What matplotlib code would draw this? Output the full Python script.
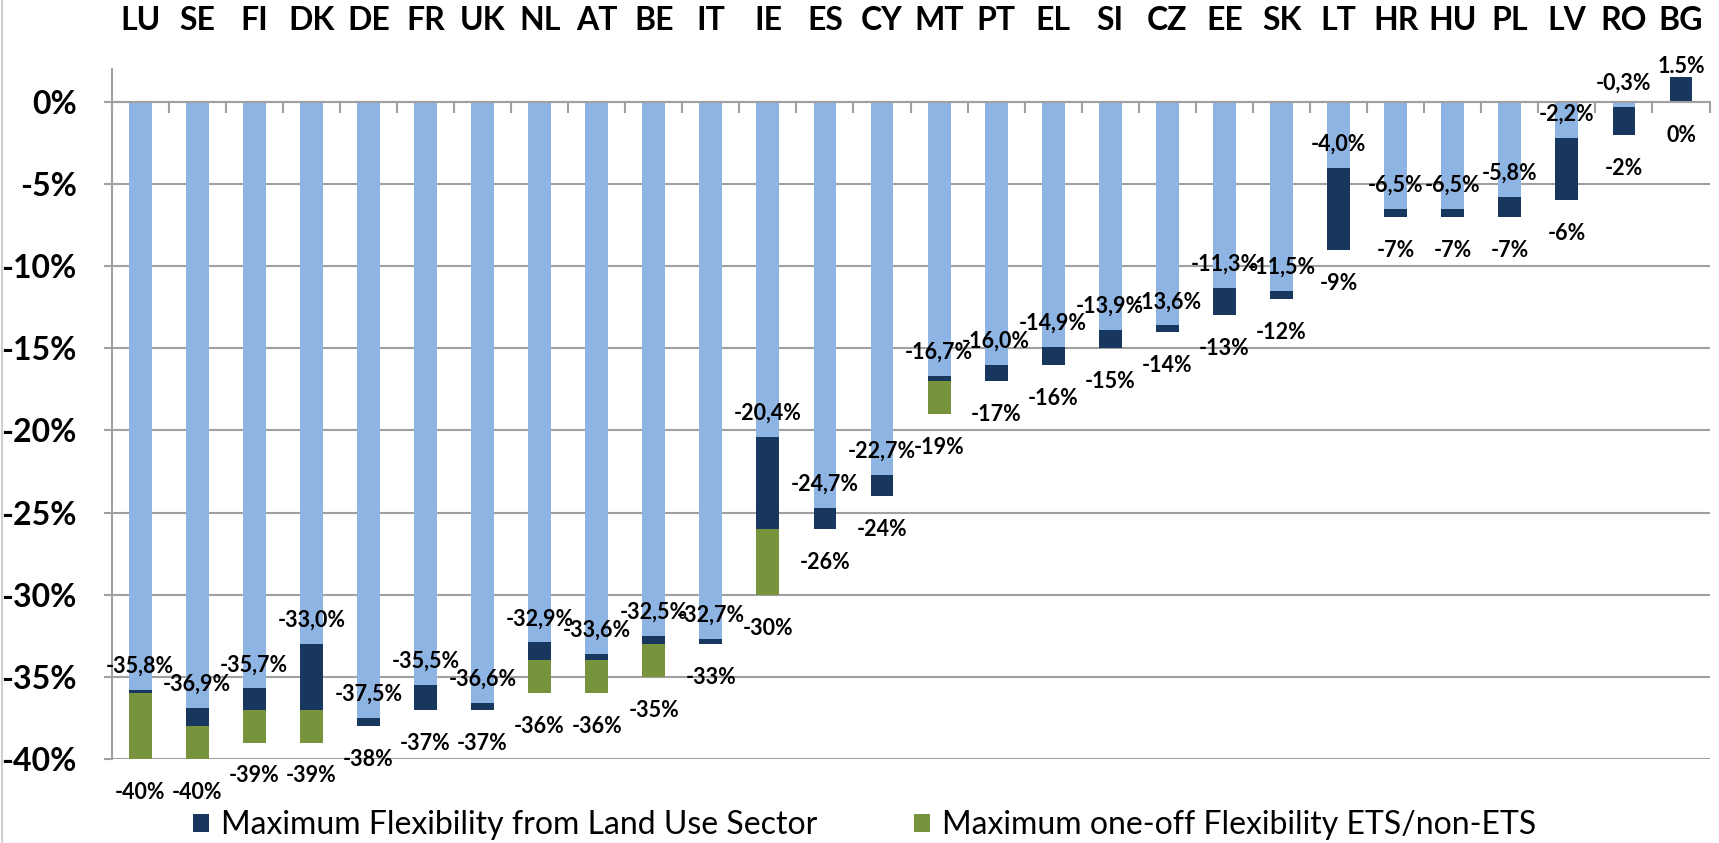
import matplotlib.pyplot as plt
from matplotlib.ticker import FixedLocator

plt.rcParams['font.family'] = ['Lato', 'DejaVu Sans']

countries = ['LU', 'SE', 'FI', 'DK', 'DE', 'FR', 'UK', 'NL', 'AT', 'BE', 'IT',
             'IE', 'ES', 'CY', 'MT', 'PT', 'EL', 'SI', 'CZ', 'EE', 'SK', 'LT',
             'HR', 'HU', 'PL', 'LV', 'RO', 'BG']

# target (light blue), after land use flexibility, after ETS flexibility
target = [-35.8, -36.9, -35.7, -33.0, -37.5, -35.5, -36.6, -32.9, -33.6, -32.5,
          -32.7, -20.4, -24.7, -22.7, -16.7, -16.0, -14.9, -13.9, -13.6, -11.3,
          -11.5, -4.0, -6.5, -6.5, -5.8, -2.2, -0.3, 1.5]
land_use = [-36, -38, -37, -37, -38, -37, -37, -34, -34, -33, -33, -26, -26,
            -24, -17, -17, -16, -15, -14, -13, -12, -9, -7, -7, -7, -6, -2, 0]
total = [-40, -40, -39, -39, -38, -37, -37, -36, -36, -35, -33, -30, -26,
         -24, -19, -17, -16, -15, -14, -13, -12, -9, -7, -7, -7, -6, -2, 0]

c_light = '#8EB4E3'
c_navy = '#17375E'
c_green = '#77933C'
c_grid = '#A0A0A0'

fig = plt.figure(figsize=(17.19, 8.43), dpi=100)
ax = fig.add_axes([0.0649, 0.0996, 0.9296, 0.8185])

x = list(range(len(countries)))
w = 0.4

light_h = [min(t, 0) for t in target]
navy_h = [l - t for t, l in zip(target, land_use)]
green_h = [c - l for l, c in zip(land_use, total)]

ax.bar(x, light_h, w, color=c_light, zorder=3)
ax.bar(x, navy_h, w, bottom=target, color=c_navy, zorder=3,
       label='Maximum Flexibility from Land Use Sector')
ax.bar(x, green_h, w, bottom=land_use, color=c_green, zorder=3,
       label='Maximum one-off Flexibility ETS/non-ETS')

# data labels
for i in x:
    t = target[i]
    s = f'{t:.1f}%'
    if t < 0:
        s = s.replace('.', ',')
    off = 17 if t < 0 else 8
    ax.annotate(s, (i, t), xytext=(0, off), textcoords='offset points',
                ha='center', va='center', fontsize=15.5, fontweight='bold',
                zorder=5)
    ax.annotate(f'{total[i]:.0f}%', (i, total[i]), xytext=(0, -24),
                textcoords='offset points', ha='center', va='center',
                fontsize=15.5, fontweight='bold', zorder=5)

ax.set_xlim(-0.5, len(countries) - 0.5)
ax.set_ylim(-40, 2)

ax.set_yticks(range(0, -41, -5))
ax.set_yticklabels([f'{v}%' for v in range(0, -41, -5)], fontsize=23,
                   fontweight='bold')
ax.yaxis.grid(True, color=c_grid, lw=1.5, zorder=0)
ax.tick_params(axis='y', length=6, width=1.5, color=c_grid, pad=19)

# country names above the plot
ax.set_xticks([])
for i, c in enumerate(countries):
    ax.text(i, 1.07, c, transform=ax.get_xaxis_transform(), ha='center',
            va='center', fontsize=23, fontweight='bold')

ax.xaxis.set_minor_locator(FixedLocator([i - 0.5 for i in range(len(countries) + 1)]))
ax.tick_params(axis='x', which='minor', bottom=True, length=8, width=1.5,
               color=c_grid, direction='out')

ax.spines['bottom'].set_position(('data', 0))
ax.spines['bottom'].set_color(c_grid)
ax.spines['bottom'].set_linewidth(1.5)
ax.spines['bottom'].set_zorder(4)
ax.spines['left'].set_color(c_grid)
ax.spines['left'].set_linewidth(1.5)
ax.spines['top'].set_visible(False)
ax.spines['right'].set_visible(False)

fig.legend(loc='center', bbox_to_anchor=(0.503, 0.021), ncol=2, frameon=False,
           fontsize=23, handlelength=0.5, handleheight=0.5,
           handletextpad=0.4, columnspacing=3.0)

fig.add_artist(plt.Line2D([0.001, 0.001], [0, 1], color='#D0D0D0', lw=1.5))

plt.savefig('out.png')
